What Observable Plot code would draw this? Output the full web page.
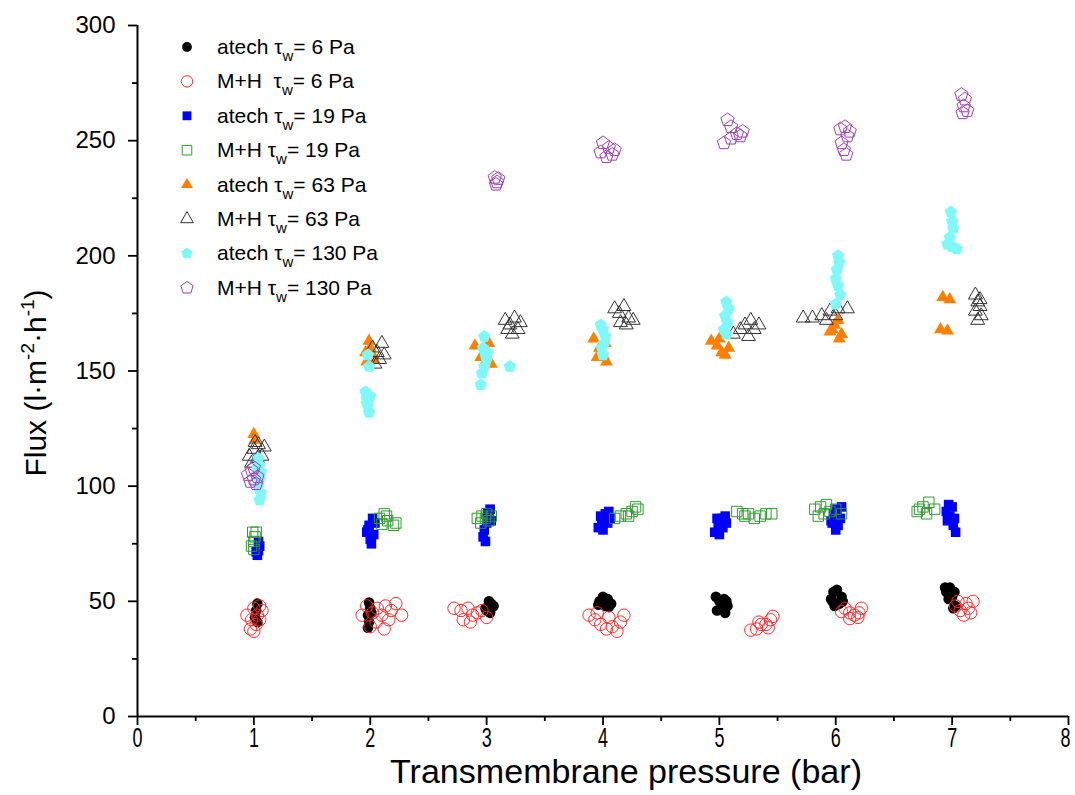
<!DOCTYPE html>
<html>
<head>
<meta charset="utf-8">
<script src="https://cdn.jsdelivr.net/npm/d3@7"></script>
<script src="https://cdn.jsdelivr.net/npm/@observablehq/plot@0.6"></script>
<style>
  html, body { margin: 0; padding: 0; background: #fff; }
  #chart { position: relative; width: 1075px; height: 795px; }
</style>
</head>
<body>
<div id="chart"></div>
<script>
// ---- Data ----
const xTicks = [0, 1, 2, 3, 4, 5, 6, 7, 8];
const xMinor = [0.5, 1.5, 2.5, 3.5, 4.5, 5.5, 6.5, 7.5];
const yTicks = [0, 50, 100, 150, 200, 250, 300];
const yMinor = [25, 75, 125, 175, 225, 275];

const seriesLabels = [
  ["atech ", "= 6 Pa"],
  ["M+H  ", "= 6 Pa"],
  ["atech ", "= 19 Pa"],
  ["M+H ", "= 19 Pa"],
  ["atech ", "= 63 Pa"],
  ["M+H ", "= 63 Pa"],
  ["atech ", "= 130 Pa"],
  ["M+H ", "= 130 Pa"]
];

const atech6 = [
  [1.03,49],[1.02,46],[1.01,43],[1.03,41],
  [1.99,49.5],[2.0,47],[1.98,44],[1.99,41],[1.98,38.5],[2.01,45],
  [3.02,50],[3.04,49],[3.05,47.5],[3.0,46],[3.03,45],[3.06,48],[2.99,47],
  [3.97,50],[4.0,52],[4.04,51],[4.07,49],[4.02,48],[3.96,48.5],[4.05,47.5],
  [4.97,52],[5.0,50],[5.04,51],[5.07,48],[5.02,47],[4.98,46],[5.05,45],[5.06,50],
  [5.96,51],[5.98,54],[6.01,55],[6.05,52],[6.03,49],[5.99,48],[6.06,50],[5.97,50],
  [6.94,56],[6.98,56],[7.02,54],[7.0,52],[6.97,51],[7.03,48],[7.01,47],[6.95,54]
];
const mh6 = [
  [0.94,44],[1.0,47],[1.05,48],[1.07,46],[0.98,42],[1.02,40],[1.05,42],[0.97,38],[1.03,44],[1.0,37],
  [1.93,44],[1.97,48],[2.02,45],[2.06,47],[2.1,44],[2.13,48],[2.18,46],[2.22,49],[2.27,44],[2.05,41],[2.12,38],[2.0,39],[2.16,42],
  [2.72,47],[2.78,46],[2.84,47],[2.88,44],[2.92,45],[2.8,42],[2.86,41],[2.96,46],[3.0,43],
  [3.88,44],[3.93,42],[3.98,40],[4.03,38],[4.08,39],[4.12,37],[4.15,41],[3.95,45],[4.05,43],[4.18,44],
  [5.27,37.5],[5.32,38],[5.36,40],[5.4,40],[5.44,42],[5.46,43.5],[5.34,41],[5.42,38.5],
  [6.08,47],[6.12,45],[6.16,44],[6.19,43],[6.22,47],[6.12,42.5],[6.05,45.5],[6.2,45],
  [7.03,48],[7.07,46],[7.1,44],[7.14,47],[7.18,50],[7.16,45],[7.05,50],[7.12,49]
];
const atech19 = [
  [1.03,70],[1.04,72],[1.05,74],[1.02,71.5],[1.04,76],
  [1.97,80],[1.99,83],[2.02,86],[2.0,77],[2.01,75],[2.04,84],[1.98,81],[2.03,79],
  [2.97,78],[2.98,81],[3.0,84],[3.02,86],[3.01,88.5],[3.03,90],[2.99,76],[3.04,85],
  [3.96,82],[3.99,85],[4.02,88],[4.05,89],[4.06,86],[4.0,81],[3.98,87],[4.04,84],
  [4.96,80],[4.99,83],[5.02,86],[5.05,87],[5.03,82],[4.98,86],[5.06,84],[5.0,79],
  [5.96,85],[5.98,88],[6.01,90],[6.04,86],[6.02,83],[6.0,81],[5.97,84],[6.05,91],
  [6.95,89],[6.97,92],[7.0,91],[7.02,86],[7.01,83],[7.03,80],[6.98,87],[6.96,85]
];
const mh19 = [
  [0.99,80],[1.01,78],[1.0,76],[0.98,74],[1.02,80],[1.0,72.5],
  [2.08,86],[2.12,88],[2.15,85],[2.2,83],[2.1,83.5],[2.14,87],[2.22,84],
  [2.92,86],[2.96,87],[3.0,88],[3.02,85],[2.95,84],[2.99,86],[3.04,87],
  [4.1,86],[4.15,87],[4.2,88],[4.25,89],[4.3,90],[4.22,87],[4.28,91],
  [5.15,89],[5.2,88],[5.25,88],[5.3,86],[5.35,87],[5.4,88],[5.45,88],[5.22,87],
  [5.82,90],[5.87,91],[5.92,92],[5.95,89],[6.0,90],[5.9,88],[6.05,88],[5.85,87],
  [6.7,89],[6.75,91],[6.8,93],[6.85,90],[6.78,88],[6.72,90]
];
const atech63 = [
  [1.0,122.5],[1.01,120],
  [1.97,154],[2.0,160],[2.02,157],[1.99,163],[2.03,155],[1.96,158],
  [2.9,161],[3.02,162],[2.95,156],[3.0,155],[3.04,153],[2.98,158],
  [3.92,164],[3.97,160],[4.0,157],[4.03,154],[3.95,156],[4.02,162],
  [4.93,163],[4.98,161],[5.02,158],[5.05,157],[5.08,160],[5.0,164],
  [5.95,167],[5.99,170],[6.02,172],[6.05,166],[6.03,164],[5.97,168],
  [6.92,182],[6.98,181],[6.9,168],[6.96,167.5]
];
const mh63 = [
  [0.96,113],[1.0,116],[1.04,118],[1.09,117],[1.03,112],[1.07,113],[0.98,110],[1.01,119],
  [2.02,160],[2.06,158],[2.1,162],[2.12,157],[2.08,155],[2.04,153],
  [3.16,172],[3.2,170],[3.24,173],[3.27,168],[3.22,166],[3.29,171],[3.18,168],
  [4.1,177],[4.14,175],[4.18,178],[4.22,173],[4.26,172],[4.2,170],[4.15,171],
  [5.12,166],[5.18,168],[5.22,170],[5.27,172],[5.3,168],[5.34,170],[5.25,165],
  [5.72,173],[5.8,173],[5.88,174],[5.95,176],[6.02,177],[6.1,177],[5.92,172],[6.0,174],
  [7.2,183],[7.22,180],[7.24,178],[7.2,176],[7.25,174],[7.22,172],[7.24,181]
];
const atech130 = [
  [1.04,112],[1.05,109],[1.06,106],[1.05,103],[1.04,100],[1.06,97],[1.05,94],[1.03,108],
  [1.98,157],[1.99,152],[1.96,141],[1.97,138],[1.98,135],[1.99,132],[2.0,139],[1.97,136],
  [2.98,165],[2.97,160],[2.99,157],[3.0,155],[2.98,152],[2.96,149],[2.95,144],[3.01,158],[3.2,152],
  [3.98,170],[4.0,168],[4.02,165],[4.01,162],[3.99,160],[4.0,157],
  [5.06,180],[5.08,177],[5.05,174],[5.07,171],[5.04,168],[5.06,166],
  [6.02,200],[6.03,197],[6.01,194],[6.0,190],[6.02,187],[6.04,183],[6.0,179],
  [6.99,219],[7.0,215],[7.01,212],[6.98,208],[6.96,205],[7.0,204],[7.04,203]
];
const mh130 = [
  [0.95,105],[0.98,107],[1.0,103],[1.02,101],[0.97,102],[1.03,104],[1.0,108],
  [3.07,234],[3.09,232],[3.08,231],[3.1,233.5],
  [4.0,249],[4.05,247],[4.08,244],[4.03,243],[4.1,246],[3.98,245],
  [5.07,259],[5.1,256],[5.15,253],[5.2,254],[5.04,249],[5.1,251],[5.18,252],
  [6.04,255],[6.08,256],[6.1,252],[6.05,249],[6.07,246],[6.09,244],[6.12,254],
  [7.08,270],[7.11,268],[7.1,265],[7.09,262],[7.13,263]
];

// ---- Custom symbols (radius = sqrt(size/PI)) ----
const symCircle = { draw(ctx, size) { const R = Math.sqrt(size / Math.PI); ctx.moveTo(R, 0); ctx.arc(0, 0, R, 0, 2 * Math.PI); } };
const symSquare = { draw(ctx, size) { const R = Math.sqrt(size / Math.PI); ctx.rect(-R, -R, 2 * R, 2 * R); } };
const symTriangle = { draw(ctx, size) { const R = Math.sqrt(size / Math.PI); ctx.moveTo(0, -R); ctx.lineTo(R * 0.866, R * 0.5); ctx.lineTo(-R * 0.866, R * 0.5); ctx.closePath(); } };
const symPentagon = { draw(ctx, size) { const R = Math.sqrt(size / Math.PI);
  for (let i = 0; i < 5; i++) { const a = -Math.PI / 2 + i * 2 * Math.PI / 5; const px = R * Math.cos(a), py = R * Math.sin(a); if (i === 0) ctx.moveTo(px, py); else ctx.lineTo(px, py); }
  ctx.closePath(); } };

const styles = [
  { data: atech6,   symbol: symCircle,   fill: "#000000", stroke: "none",    r: 5.3 },
  { data: mh6,      symbol: symCircle,   fill: "none",    stroke: "#ff2a2a", r: 6.2 },
  { data: atech19,  symbol: symSquare,   fill: "#0000ff", stroke: "none",    r: 4.8 },
  { data: mh19,     symbol: symSquare,   fill: "none",    stroke: "#2e9a2e", r: 5.2 },
  { data: atech63,  symbol: symTriangle, fill: "#ff8000", stroke: "none",    r: 7.5 },
  { data: mh63,     symbol: symTriangle, fill: "none",    stroke: "#333333", r: 8 },
  { data: atech130, symbol: symPentagon, fill: "#80f8f8", stroke: "none",    r: 6.5 },
  { data: mh130,    symbol: symPentagon, fill: "none",    stroke: "#9b3fb5", r: 7 }
];

const dots = styles.map(s => Plot.dot(s.data, {
  x: d => d[0], y: d => d[1], symbol: s.symbol, r: s.r,
  fill: s.fill, stroke: s.stroke, strokeWidth: 1
}));

const chart = Plot.plot({
  width: 1075, height: 795,
  marginLeft: 137, marginRight: 7, marginTop: 25, marginBottom: 79,
  style: { fontFamily: "'Liberation Sans', Arial, sans-serif", background: "#fff", color: "#000", overflow: "visible" },
  x: { domain: [0, 8] },
  y: { domain: [0, 300] },
  marks: [
    Plot.axisY({ ticks: yTicks, tickSize: 9, tickPadding: 13, fontSize: 24, label: null, strokeWidth: 1.8 }),
    Plot.axisY({ ticks: yMinor, tickSize: 5, fill: "none", label: null, strokeWidth: 1.8 }),
    Plot.axisX({ ticks: xTicks, tickSize: 9, tickPadding: 2, fontSize: 27, label: null, strokeWidth: 1.8 }),
    Plot.axisX({ ticks: xMinor, tickSize: 5, fill: "none", label: null, strokeWidth: 1.8 }),
    Plot.ruleX([0], { strokeWidth: 2 }),
    Plot.ruleY([0], { strokeWidth: 2 }),
    ...dots
  ]
});
document.getElementById("chart").appendChild(chart);

const svg = d3.select(chart);
// Condensed x tick labels (keep the last one inside the page)
svg.selectAll('g[aria-label="x-axis tick label"] text')
  .attr("textLength", 10).attr("lengthAdjust", "spacingAndGlyphs")
  .filter((d, i, nodes) => i === nodes.length - 1).attr("dx", -3);

// X axis label
svg.append("text")
  .attr("x", 626).attr("y", 783)
  .attr("text-anchor", "middle")
  .attr("font-size", 33)
  .attr("textLength", 472).attr("lengthAdjust", "spacingAndGlyphs")
  .attr("fill", "#000")
  .text("Transmembrane pressure (bar)");

// Y axis label with superscripts
const yl = svg.append("text")
  .attr("transform", "translate(46,383) rotate(-90)")
  .attr("text-anchor", "middle")
  .attr("font-size", 30)
  .attr("fill", "#000");
yl.append("tspan").text("Flux (l·m");
yl.append("tspan").attr("font-size", 19).attr("dy", -12).text("-2");
yl.append("tspan").attr("dy", 12).text("·h");
yl.append("tspan").attr("font-size", 19).attr("dy", -12).text("-1");
yl.append("tspan").attr("dy", 12).text(")");

// Legend
const lg = svg.append("g").attr("font-size", 21).attr("fill", "#000").attr("text-anchor", "start");
styles.forEach((s, i) => {
  const cy = 47 + i * 34.4;
  lg.append("path")
    .attr("transform", `translate(187,${cy})`)
    .attr("d", d3.symbol(s.symbol, Math.PI * s.r * s.r * 0.85)())
    .attr("fill", s.fill).attr("stroke", s.stroke).attr("stroke-width", 1);
  const t = lg.append("text").attr("x", 217).attr("y", cy + 7).attr("text-anchor", "start").style("white-space", "pre");
  t.append("tspan").text(seriesLabels[i][0] + "τ");
  t.append("tspan").attr("font-size", 15).attr("dy", 7).text("w");
  t.append("tspan").attr("dy", -7).text(seriesLabels[i][1]);
});
</script>
</body>
</html>
